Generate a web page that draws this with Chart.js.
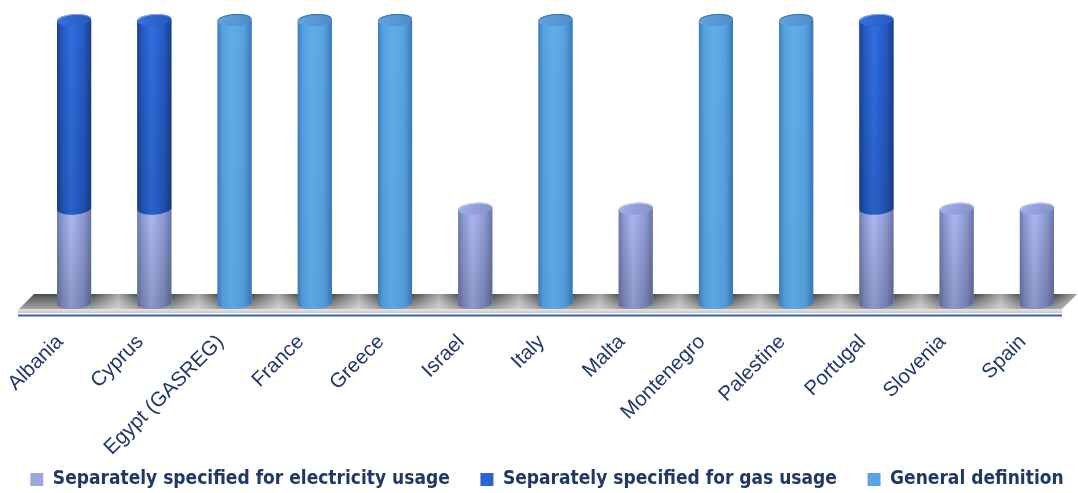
<!DOCTYPE html>
<html>
<head>
<meta charset="utf-8">
<title>Definitions by country</title>
<script src="https://cdn.jsdelivr.net/npm/chart.js@4.4.1/dist/chart.umd.min.js"></script>
<style>
  html, body { margin: 0; padding: 0; background: #ffffff; }
  #wrap { width: 1078px; height: 493px; }
</style>
</head>
<body>
<div id="wrap"><canvas id="chart" width="1078" height="493"></canvas></div>
<script>
// ---- data ----
const countries = ['Albania', 'Cyprus', 'Egypt (GASREG)', 'France', 'Greece', 'Israel', 'Italy',
                   'Malta', 'Montenegro', 'Palestine', 'Portugal', 'Slovenia', 'Spain'];
const seriesNames = ['Separately specified for electricity usage',
                     'Separately specified for gas usage',
                     'General definition'];
const electricity = [1, 1, 0, 0, 0, 1, 0, 1, 0, 0, 1, 1, 1];
const gas         = [2, 2, 0, 0, 0, 0, 0, 0, 0, 0, 2, 0, 0];
const general     = [0, 0, 3, 3, 3, 0, 3, 0, 3, 3, 0, 0, 0];

// ---- styling ----
const TEXT_COLOR = '#203864';
const baseColors = ['#9AA8E0', '#2A63D2', '#5BA4E2'];
const shades = [
  { edgeL: '#6F7BAE', mid: '#8D9AD2', light: '#ABBAF2', edgeR: '#6A76A8', capA: '#8090C8', capB: '#A4B2EA', rim: 'rgba(255,255,255,0.55)', dark: 0.18 },
  { edgeL: '#1B428F', mid: '#2659C2', light: '#2F6FE2', edgeR: '#1A3F88', capA: '#2457BE', capB: '#3574E0', rim: 'rgba(255,255,255,0.45)', dark: 0.12 },
  { edgeL: '#3E7EBE', mid: '#55A0DE', light: '#62ADEA', edgeR: '#3A78B8', capA: '#4B8CC8', capB: '#60A6E2', rim: 'rgba(40,80,130,0.55)', dark: 0.04 }
];

function cylinderPath(ctx, x, top, base, rx, ry, tilt) {
  ctx.beginPath();
  ctx.moveTo(x - rx, top);
  ctx.lineTo(x - rx, base);
  ctx.ellipse(x, base, rx, ry, tilt, Math.PI, 0, true);
  ctx.lineTo(x + rx, top);
  ctx.ellipse(x, top, rx, ry, tilt, 0, Math.PI, true);
  ctx.closePath();
}

function drawCylinder(ctx, el, s, isTop) {
  const { x, y, base, width } = el.getProps(['x', 'y', 'base', 'width'], true);
  const rx = width / 2, ry = 6, tilt = -0.07;
  ctx.save();
  cylinderPath(ctx, x, y, base, rx, ry, tilt);
  const g = ctx.createLinearGradient(x - rx, 0, x + rx, 0);
  g.addColorStop(0, s.edgeL);
  g.addColorStop(0.15, s.mid);
  g.addColorStop(0.42, s.light);
  g.addColorStop(0.78, s.mid);
  g.addColorStop(1, s.edgeR);
  ctx.fillStyle = g;
  ctx.fill();
  // slight darkening towards the foot of each segment
  const v = ctx.createLinearGradient(0, y, 0, base + ry);
  v.addColorStop(0, 'rgba(0,0,0,0)');
  v.addColorStop(1, 'rgba(0,0,20,' + s.dark + ')');
  ctx.fillStyle = v;
  ctx.fill();
  if (isTop) {
    ctx.beginPath();
    ctx.ellipse(x, y, rx, ry, tilt, 0, Math.PI * 2);
    const c = ctx.createLinearGradient(x - rx, y - ry, x + rx, y + ry);
    c.addColorStop(0, s.capB);
    c.addColorStop(1, s.capA);
    ctx.fillStyle = c;
    ctx.fill();
    ctx.beginPath();
    ctx.ellipse(x, y, rx - 0.5, ry - 0.5, tilt, Math.PI * 1.05, Math.PI * 1.95);
    ctx.strokeStyle = s.rim;
    ctx.lineWidth = 1;
    ctx.stroke();
  }
  ctx.restore();
}

function drawFloor(chart) {
  const { ctx, chartArea } = chart;
  const xs = chart.scales.x;
  const base = chart.scales.y.getPixelForValue(0);
  const L = chartArea.left, R = chartArea.right;
  const top = base - 9, front = base + 6, bottom = base + 10;
  const slant = 15;
  const step = xs.getPixelForValue(1) - xs.getPixelForValue(0);
  ctx.save();
  // upper face of the platform
  ctx.beginPath();
  ctx.moveTo(L, top);
  ctx.lineTo(R, top);
  ctx.lineTo(R - slant, front);
  ctx.lineTo(L - slant, front);
  ctx.closePath();
  const g = ctx.createLinearGradient(0, top, 0, front);
  g.addColorStop(0, '#4c4c4c');
  g.addColorStop(0.5, '#7a7a7a');
  g.addColorStop(1, '#a6a6a6');
  ctx.fillStyle = g;
  ctx.fill();
  ctx.clip();
  // light streaks between the columns
  const x0 = L - slant, span = R - L + slant;
  const h = ctx.createLinearGradient(x0, 0, R, 0);
  const f = (px) => Math.min(1, Math.max(0, (px - x0) / span));
  for (let i = 0; i < countries.length; i++) {
    const mid = xs.getPixelForValue(i) + step / 2;
    h.addColorStop(f(mid - 22), 'rgba(255,255,255,0)');
    h.addColorStop(f(mid + 4), 'rgba(255,255,255,0.5)');
    h.addColorStop(f(mid + 24), 'rgba(255,255,255,0)');
  }
  ctx.fillStyle = h;
  ctx.fillRect(x0, top, span, front - top);
  ctx.restore();
  // front edge
  ctx.save();
  const fe = ctx.createLinearGradient(0, front, 0, bottom);
  fe.addColorStop(0, '#e6e6e6');
  fe.addColorStop(1, '#c8c8c8');
  ctx.fillStyle = fe;
  ctx.fillRect(L - slant - 1, front, R - L + 1, bottom - front);
  // axis line
  ctx.strokeStyle = '#3B5EA6';
  ctx.lineWidth = 2;
  ctx.beginPath();
  ctx.moveTo(L - slant - 1, bottom + 2.5);
  ctx.lineTo(R - slant, bottom + 2.5);
  ctx.stroke();
  ctx.restore();
}

const cylinders = {
  id: 'cylinders',
  beforeDatasetsDraw(chart) { drawFloor(chart); },
  afterDatasetsDraw(chart) {
    const ctx = chart.ctx;
    const sets = chart.data.datasets;
    for (let i = 0; i < countries.length; i++) {
      let topSet = -1;
      sets.forEach((ds, d) => { if (ds.data[i] > 0) topSet = d; });
      sets.forEach((ds, d) => {
        if (!(ds.data[i] > 0)) return;
        drawCylinder(ctx, chart.getDatasetMeta(d).data[i], shades[d], d === topSet);
      });
    }
  }
};

const seriesValues = [electricity, gas, general];

new Chart(document.getElementById('chart'), {
  type: 'bar',
  data: {
    labels: countries,
    datasets: seriesValues.map((vals, d) => ({
      label: seriesNames[d] + (d < seriesValues.length - 1 ? '\u2003\u2002' : ''),
      data: vals,
      backgroundColor: baseColors[d],
      borderWidth: 0,
      categoryPercentage: 1,
      barPercentage: 0.425
    }))
  },
  options: {
    responsive: false,
    animation: false,
    events: [],
    layout: { padding: { left: 17, right: 1, top: 20, bottom: -6 } },
    scales: {
      x: {
        stacked: true,
        grid: { display: false, drawTicks: false },
        border: { display: false },
        ticks: {
          color: TEXT_COLOR,
          font: { family: "'Liberation Sans', Arial, sans-serif", size: 20.5 },
          minRotation: 45,
          maxRotation: 45,
          autoSkip: false,
          labelOffset: -14,
          padding: 27
        },
        afterFit(scale) {
          scale.height = 162;
          scale.paddingLeft = 0;
          scale.paddingRight = 0;
        }
      },
      y: {
        stacked: true,
        display: true,
        min: 0,
        max: 3,
        ticks: { display: false },
        grid: { display: false, drawTicks: false },
        border: { display: false },
        afterFit(scale) { scale.width = 17; }
      }
    },
    plugins: {
      tooltip: { enabled: false },
      legend: {
        position: 'bottom',
        labels: {
          color: TEXT_COLOR,
          font: { family: "'DejaVu Sans Condensed', 'DejaVu Sans', sans-serif", size: 19, weight: 'bold' },
          boxWidth: 13,
          boxHeight: 13,
          padding: 5
        }
      }
    }
  },
  plugins: [cylinders]
});
</script>
</body>
</html>
